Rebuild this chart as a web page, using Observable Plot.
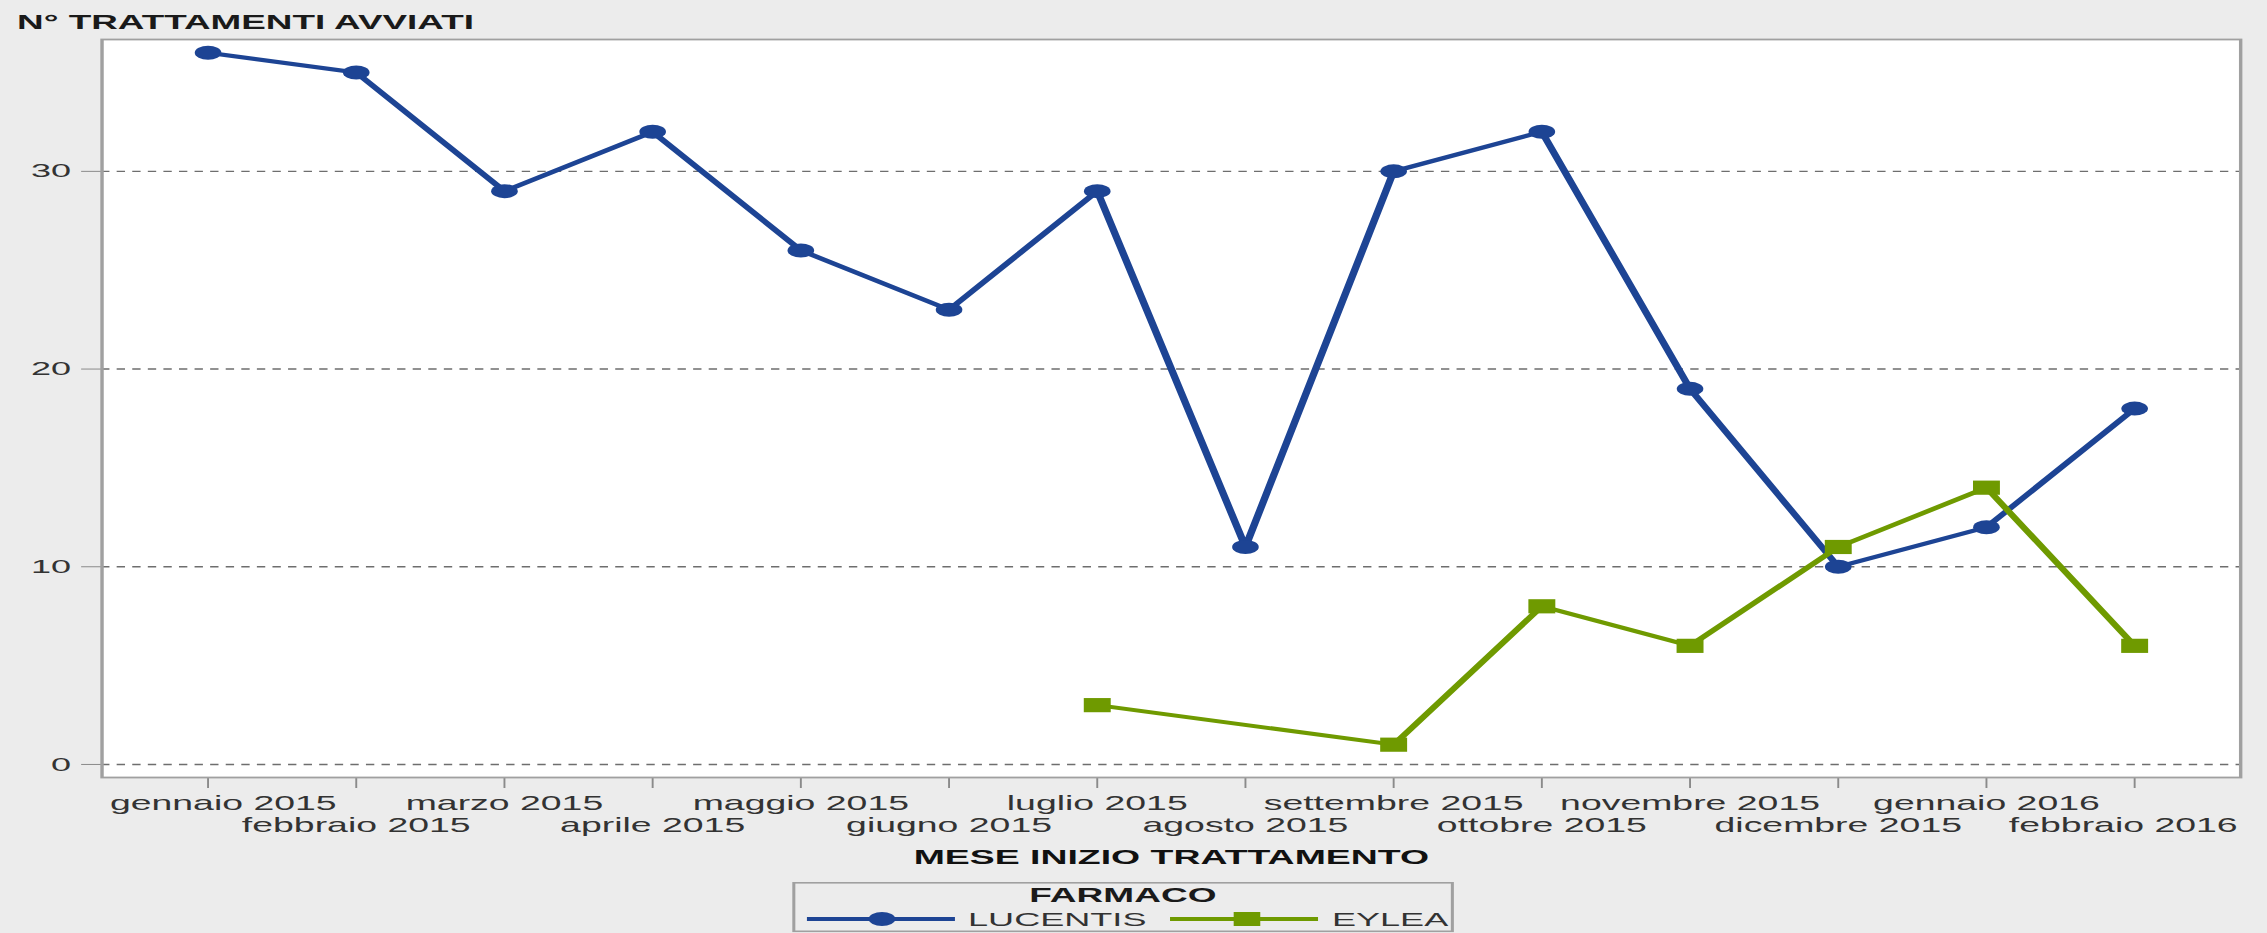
<!DOCTYPE html>
<html><head><meta charset="utf-8">
<script src="https://cdn.jsdelivr.net/npm/d3@7"></script>
<script src="https://cdn.jsdelivr.net/npm/@observablehq/plot@0.6"></script>
<style>
html,body{margin:0;padding:0;background:#ececec;overflow:hidden}
#wrap{position:relative;width:1193px;height:933px;transform:scaleX(1.9);transform-origin:0 0;font-family:"Liberation Sans",Arial,sans-serif}
#title{position:absolute;left:9px;top:12.5px;font-size:19.4px;line-height:1;font-weight:bold;color:#1a1a1a;white-space:nowrap}
#chart{position:absolute;left:0;top:30px;width:1193px}
#legend{position:absolute;left:417px;top:882px}
</style></head><body>
<div id="wrap"><div id="title">N° TRATTAMENTI AVVIATI</div><div id="chart"></div><div id="legend"></div></div>
<script>
const months = ["gennaio 2015","febbraio 2015","marzo 2015","aprile 2015","maggio 2015","giugno 2015","luglio 2015","agosto 2015","settembre 2015","ottobre 2015","novembre 2015","dicembre 2015","gennaio 2016","febbraio 2016"];
const lucentis = [36,35,29,32,26,23,29,11,30,32,19,10,12,18];
const eylea = [null,null,null,null,null,null,3,null,1,8,6,11,14,6];
const seriesNames = ["LUCENTIS","EYLEA"];
const seriesColors = ["#1d4494","#6f9a00"];
const yTicks = [0,10,20,30];
const xTitle = "MESE INIZIO TRATTAMENTO";
const legendTitle = "FARMACO";

const lucRows = months.map((m,i)=>({month:m, value:lucentis[i]})).filter(d=>d.value!=null);
const eylRows = months.map((m,i)=>({month:m, value:eylea[i]})).filter(d=>d.value!=null);
const even = months.filter((m,i)=>i%2===0);
const odd = months.filter((m,i)=>i%2===1);
const FF = '"Liberation Sans", Arial, sans-serif';

const chart = Plot.plot({
  width: 1193, height: 850,
  marginTop: 9, marginBottom: 103, marginLeft: 53.2, marginRight: 14.2,
  style: {background: "none", fontFamily: FF, fontSize: "19.7px", color: "#333", overflow: "visible"},
  x: {type: "point", domain: months, padding: 0.684, label: null},
  y: {domain: [-0.66, 36.67], label: null},
  marks: [
    Plot.frame({fill: "white", stroke: null}),
    Plot.gridY(yTicks, {stroke: "#6e6e6e", strokeOpacity: 1, strokeWidth: 1.4, strokeDasharray: "4.4,3.8"}),
    Plot.axisY(yTicks, {tickSize: 10.5, tickPadding: 5.8, fontSize: 19, stroke: "#8a8a8a", fill: "#333", label: null}),
    Plot.axisX(months, {tickSize: 11, stroke: "#8a8a8a", tickFormat: () => "", label: null}),
    Plot.axisX(even.slice(1), {tickSize: 0, tickPadding: 19, fill: "#333", label: null}),
    Plot.axisX([months[0]], {tickSize: 0, tickPadding: 19, dx: 8, fill: "#333", label: null}),
    Plot.axisX(odd.slice(0, -1), {tickSize: 0, tickPadding: 41, fill: "#333", label: null}),
    Plot.axisX([months[months.length-1]], {tickSize: 0, tickPadding: 41, dx: -6, fill: "#333", label: null}),
    Plot.axisX([], {tickSize: 0, label: xTitle, labelAnchor: "center", labelOffset: 86, labelArrow: "none", fontWeight: "bold", fill: "#111"}),
    Plot.line(lucRows, {x: "month", y: "value", stroke: seriesColors[0], strokeWidth: 4}),
    Plot.dot(lucRows, {x: "month", y: "value", r: 7, fill: seriesColors[0], stroke: null}),
    Plot.line(eylRows, {x: "month", y: "value", stroke: seriesColors[1], strokeWidth: 4}),
    Plot.dot(eylRows, {x: "month", y: "value", symbol: "square", r: 8, fill: seriesColors[1], stroke: null}),
    Plot.frame({stroke: "#a0a0a0", strokeWidth: 1.8})
  ]
});
document.getElementById("chart").appendChild(chart);

// legend
const lg = d3.select("#legend").append("svg").attr("width", 350).attr("height", 51).style("overflow", "visible");
lg.append("rect").attr("x", 0.8).attr("y", 0.8).attr("width", 346.6).attr("height", 48.5)
  .attr("fill", "none").attr("stroke", "#a0a0a0").attr("stroke-width", 1.6);
lg.append("text").attr("x", 174).attr("y", 20).attr("text-anchor", "middle")
  .attr("font-family", FF).attr("font-size", 19.5).attr("font-weight", "bold").attr("fill", "#1a1a1a").text(legendTitle);
const items = [
  {x0: 7.7, x1: 85.6, mx: 47.2, tx: 92.5, sym: "circle"},
  {x0: 198.8, x1: 276.7, mx: 239.3, tx: 284, sym: "square"}
];
items.forEach((it, i) => {
  const g = lg.append("g");
  g.append("line").attr("x1", it.x0).attr("x2", it.x1).attr("y1", 37).attr("y2", 37)
    .attr("stroke", seriesColors[i]).attr("stroke-width", 4);
  if (it.sym === "circle") g.append("circle").attr("cx", it.mx).attr("cy", 37).attr("r", 7).attr("fill", seriesColors[i]);
  else g.append("rect").attr("x", it.mx - 7).attr("y", 30).attr("width", 14).attr("height", 14).attr("fill", seriesColors[i]);
  g.append("text").attr("x", it.tx).attr("y", 44).attr("font-family", FF).attr("font-size", 19)
    .attr("fill", "#333").text(seriesNames[i]);
});
</script>
</body></html>
